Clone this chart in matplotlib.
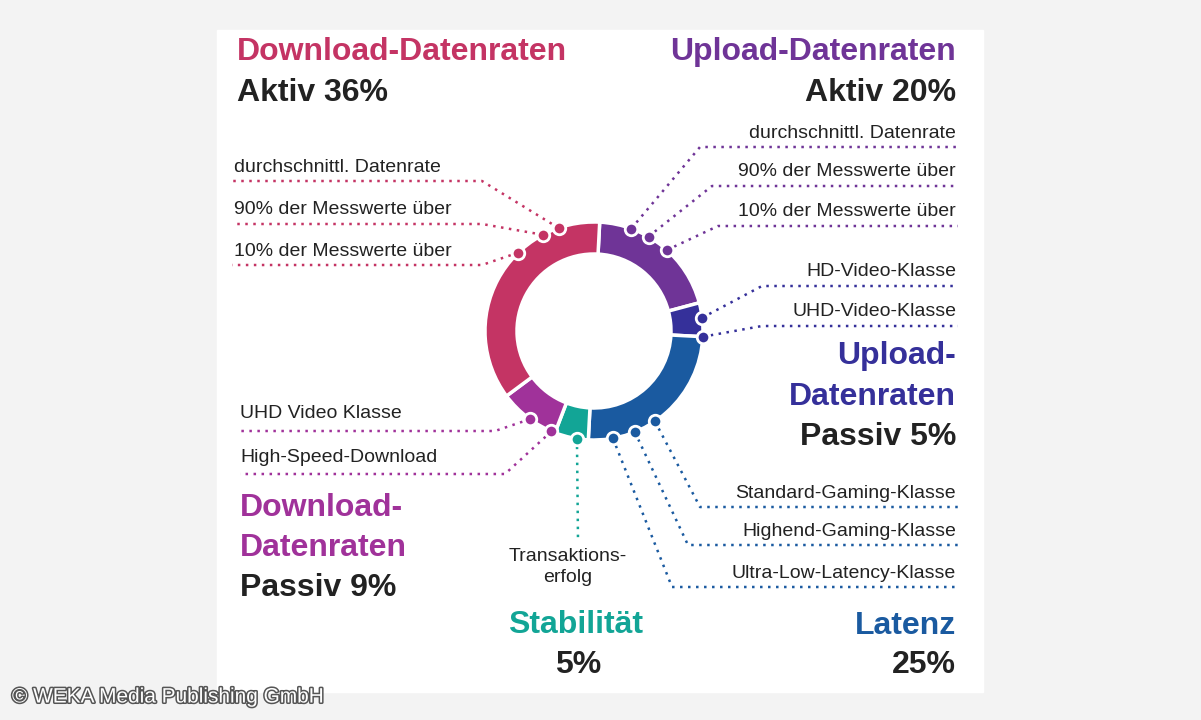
import numpy as np
import matplotlib
matplotlib.use("Agg")
import matplotlib.pyplot as plt
import matplotlib.patheffects as pe

plt.rcParams["font.family"] = "Liberation Sans"

# segments clockwise from top
segments = ["Upload aktiv", "Upload passiv", "Latenz", "Stabilität",
            "Download passiv", "Download aktiv"]
shares = [20, 5, 25, 5, 9, 36]
colors = ["#6f3497", "#35309a", "#1a5aa0", "#12a596", "#a0329a", "#c43464"]

dl_active = ["durchschnittl. Datenrate", "90% der Messwerte über",
             "10% der Messwerte über"]
ul_active = ["durchschnittl. Datenrate", "90% der Messwerte über",
             "10% der Messwerte über"]
ul_passive = ["HD-Video-Klasse", "UHD-Video-Klasse"]
latency = ["Standard-Gaming-Klasse", "Highend-Gaming-Klasse",
           "Ultra-Low-Latency-Klasse"]
stability = ["Transaktions-\nerfolg"]
dl_passive = ["UHD Video Klasse", "High-Speed-Download"]

W, H = 1201, 720
fig = plt.figure(figsize=(W / 100, H / 100), dpi=100)
fig.patch.set_facecolor("#f3f3f3")

# background panel
bg = fig.add_axes([0, 0, 1, 1])
bg.set_xlim(0, W)
bg.set_ylim(H, 0)
bg.axis("off")
bg.add_patch(plt.Rectangle((217, 30), 766, 662, color="white"))

cx, cy, R, r_in = 594, 331, 109, 77
pax = fig.add_axes([(cx - R) / W, 1 - (cy + R) / H, 2 * R / W, 2 * R / H])
pax.pie(shares, colors=colors, startangle=87, counterclock=False,
        radius=1.0, wedgeprops=dict(width=(R - r_in) / R, edgecolor="white",
                                    linewidth=2.5))
pax.set_xlim(-1, 1)
pax.set_ylim(-1, 1)
pax.set_aspect("auto")
pax.axis("off")

# overlay for leaders and text
ax = fig.add_axes([0, 0, 1, 1])
ax.set_xlim(0, W)
ax.set_ylim(H, 0)
ax.axis("off")
ax.patch.set_alpha(0)


def dot_xy(ang):
    a = np.radians(ang)
    return cx + R * np.cos(a), cy - R * np.sin(a)


def leader(ang, bend, end, color):
    dx, dy = dot_xy(ang)
    ax.plot([dx, bend[0], end[0]], [dy, bend[1], end[1]], ls=(0, (1, 2.2)),
            lw=1.8, color=color, zorder=2)
    ax.plot(dx, dy, "o", ms=9, mfc=color, mec="white", mew=2, zorder=3)


fs = 14
c_dl, c_ul, c_ulp, c_lat, c_st, c_dlp = (colors[5], colors[0], colors[1],
                                          colors[2], colors[3], colors[4])

for lab, ang, ty in zip(dl_active, [109, 118, 134], [167, 210, 251]):
    ax.text(234, ty, lab, fontsize=fs, va="center", color="#222")
    leader(ang, (482, ty + 14), (232, ty + 14), c_dl)

for lab, ang, ty, x0 in zip(ul_active, [70, 60, 48], [133, 172, 212], [700, 712, 718]):
    ax.text(956, ty, lab, fontsize=fs, va="center", ha="right", color="#222")
    leader(ang, (x0, ty + 14), (958, ty + 14), c_ul)

for lab, ang, ty in zip(ul_passive, [7, -3], [272, 312]):
    ax.text(956, ty, lab, fontsize=fs, va="center", ha="right", color="#222")
    leader(ang, (762, ty + 14), (958, ty + 14), c_ulp)

for lab, ang, ty, x0 in zip(latency, [-56, -68, -80], [493, 531, 573], [700, 688, 672]):
    ax.text(956, ty, lab, fontsize=fs, va="center", ha="right", color="#222")
    leader(ang, (x0, ty + 14), (958, ty + 14), c_lat)

leader(-99, (578, 540), (578, 540), c_st)
ax.text(568, 567, stability[0], fontsize=fs, ha="center", va="center",
        color="#222", linespacing=1.3)

for lab, ang, ty, x0 in zip(dl_passive, [-126, -113], [414, 457], [495, 505]):
    ax.text(240, ty, lab, fontsize=fs, va="center", color="#222")
    leader(ang, (x0, ty + 17), (240, ty + 17), c_dlp)

hs = 23
dark = "#222222"
ax.text(237, 52, "Download-Datenraten", fontsize=hs, weight="bold", color=c_dl, va="center")
ax.text(237, 93, "Aktiv 36%", fontsize=hs, weight="bold", color=dark, va="center")
ax.text(956, 52, "Upload-Datenraten", fontsize=hs, weight="bold", color=c_ul, va="center", ha="right")
ax.text(956, 93, "Aktiv 20%", fontsize=hs, weight="bold", color=dark, va="center", ha="right")
ax.text(956, 356, "Upload-", fontsize=hs, weight="bold", color=c_ulp, va="center", ha="right")
ax.text(956, 397, "Datenraten", fontsize=hs, weight="bold", color=c_ulp, va="center", ha="right")
ax.text(956, 437, "Passiv 5%", fontsize=hs, weight="bold", color=dark, va="center", ha="right")
ax.text(240, 508, "Download-", fontsize=hs, weight="bold", color=c_dlp, va="center")
ax.text(240, 548, "Datenraten", fontsize=hs, weight="bold", color=c_dlp, va="center")
ax.text(240, 588, "Passiv 9%", fontsize=hs, weight="bold", color=dark, va="center")
ax.text(576, 625, "Stabilität", fontsize=hs, weight="bold", color=c_st, va="center", ha="center")
ax.text(578, 665, "5%", fontsize=hs, weight="bold", color=dark, va="center", ha="center")
ax.text(956, 626, "Latenz", fontsize=hs, weight="bold", color=c_lat, va="center", ha="right")
ax.text(956, 665, "25%", fontsize=hs, weight="bold", color=dark, va="center", ha="right")

ax.text(12, 697, "© WEKA Media Publishing GmbH", fontsize=15, color="white",
        va="center", path_effects=[pe.withStroke(linewidth=2.2, foreground="#555")])

fig.savefig("out.png", dpi=100)
